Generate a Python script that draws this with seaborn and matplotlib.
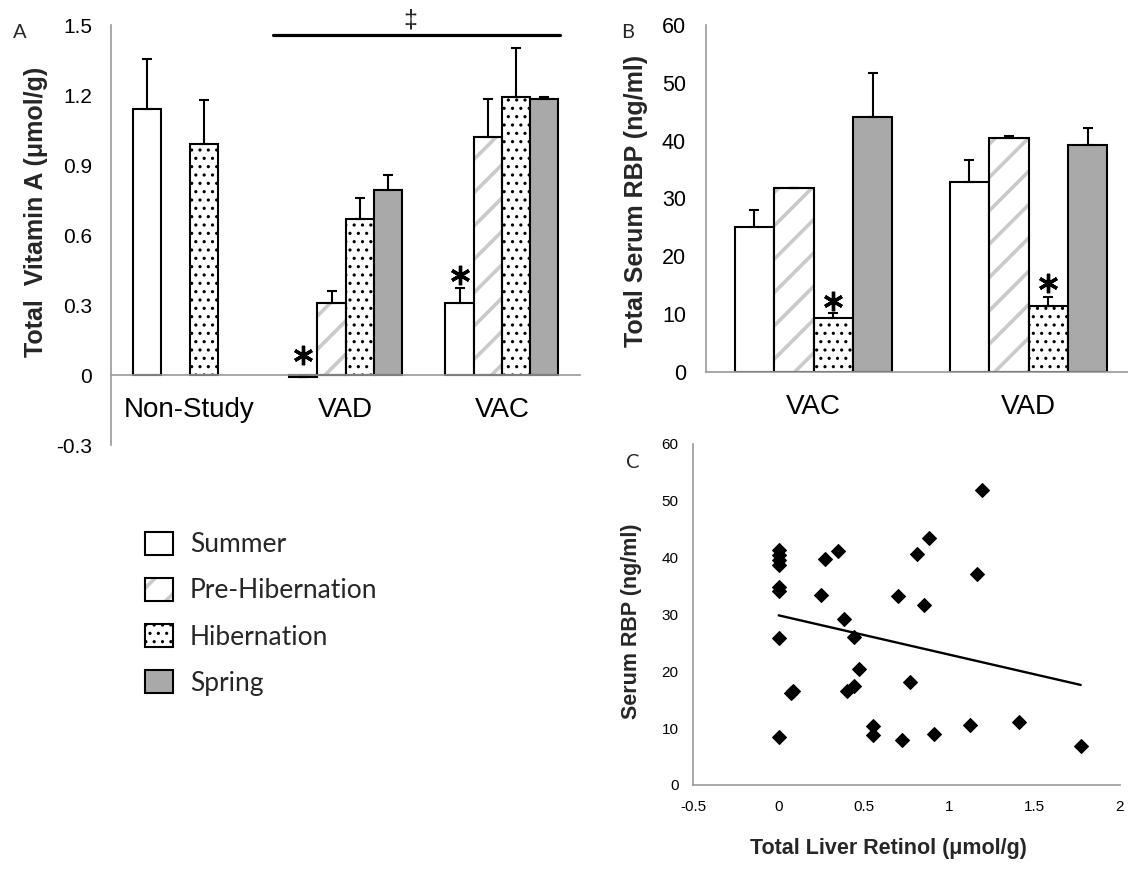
import numpy as np
import pandas as pd
import matplotlib
matplotlib.use("Agg")
import matplotlib.pyplot as plt
import seaborn as sns
from matplotlib.patches import Patch, Rectangle
from matplotlib.transforms import ScaledTranslation

seasons = ["Summer", "Pre-Hibernation", "Hibernation", "Spring"]
fills = {"Summer": "white", "Pre-Hibernation": "white",
         "Hibernation": "white", "Spring": "#A9A9A9"}
STRIPE = "#CACACA"
SPINE = "#999999"

# Panel A: total liver vitamin A (umol/g), mean and SE per season
groups_a = ["Non-Study", "VAD", "VAC"]
nonstudy_a = [1.14, np.nan, 0.99, np.nan]
vad_a = [-0.007, 0.31, 0.67, 0.795]
vac_a = [0.31, 1.02, 1.19, 1.184]
nonstudy_a_se = [0.215, np.nan, 0.19, np.nan]
vad_a_se = [0.0, 0.05, 0.09, 0.062]
vac_a_se = [0.062, 0.163, 0.21, 0.009]
# (group, season, offset in points above the error bar)
stars_a = [("VAD", "Summer", 14.5), ("VAC", "Summer", 9.5)]
yticks_a = [-0.3, 0, 0.3, 0.6, 0.9, 1.2, 1.5]
yticklabels_a = ["-0.3", "0", "0.3", "0.6", "0.9", "1.2", "1.5"]
sig_span_a = (0.535, 2.375)
sig_y_a = 1.459
sig_label_a = (1.413, 1.521)

# Panel B: total serum RBP (ng/ml)
groups_b = ["VAC", "VAD"]
vac_b = [25.0, 31.7, 9.3, 44.1]
vad_b = [32.9, 40.4, 11.4, 39.2]
vac_b_se = [2.9, 0.0, 0.8, 7.6]
vad_b_se = [3.7, 0.4, 1.6, 2.9]
stars_b = [("VAC", "Hibernation", 8.5), ("VAD", "Hibernation", 9.6)]
yticks_b = [0, 10, 20, 30, 40, 50, 60]

# Panel C: individual animals
liver_retinol = [0, 0, 0, 0, 0, 0, 0, 0, 0.07, 0.085, 0.25, 0.27, 0.35, 0.38,
                 0.40, 0.44, 0.44, 0.47, 0.55, 0.55, 0.70, 0.72, 0.77, 0.81,
                 0.85, 0.88, 0.91, 1.12, 1.16, 1.19, 1.41, 1.77]
serum_rbp = [41.4, 40.5, 39.6, 38.7, 34.8, 34.2, 25.8, 8.5, 16.1, 16.5, 33.4,
             39.7, 41.1, 29.2, 16.5, 26.1, 17.4, 20.4, 10.3, 8.8, 33.3, 8.0,
             18.2, 40.6, 31.6, 43.4, 9.0, 10.6, 37.1, 51.9, 11.0, 6.9]
xticks_c = [-0.5, 0, 0.5, 1, 1.5, 2]
xticklabels_c = ["-0.5", "0", "0.5", "1", "1.5", "2"]
yticks_c = [0, 10, 20, 30, 40, 50, 60]


def long_frame(groups, values, errors):
    rows = []
    for g, vals, errs in zip(groups, values, errors):
        for s, v, e in zip(seasons, vals, errs):
            if not np.isnan(v):
                rows.append({"group": g, "season": s, "value": v, "se": e})
    return pd.DataFrame(rows)


def draw_bars(ax, df, groups, width):
    sns.barplot(data=df, x="group", y="value", hue="season", order=groups,
                hue_order=seasons, palette=fills, saturation=1, width=width,
                errorbar=None, edgecolor="black", linewidth=1.5, legend=False,
                ax=ax, zorder=2)
    bars = {}
    xs, tops, errs = [], [], []
    for season, cont in zip(seasons, ax.containers):
        sub = df[df["season"] == season]
        for p, row in zip(cont.patches, sub.itertuples()):
            bars[(row.group, season)] = p
            if season == "Pre-Hibernation":
                p.set_hatch("/")
                p.set_edgecolor(STRIPE)
                if hasattr(p, "set_hatch_linewidth"):
                    p.set_hatch_linewidth(2.6)
                ax.add_patch(Rectangle(p.get_xy(), p.get_width(), p.get_height(),
                                       fill=False, edgecolor="black", lw=1.5,
                                       zorder=2.1))
            elif season == "Hibernation":
                p.set_hatch("..")
                if hasattr(p, "set_hatch_linewidth"):
                    p.set_hatch_linewidth(1.1)
            xs.append(p.get_x() + p.get_width() / 2)
            tops.append(row.value)
            errs.append(row.se)
    ax.errorbar(xs, tops, yerr=[np.zeros(len(errs)), errs], fmt="none",
                ecolor="black", elinewidth=1.5, capsize=3.6, capthick=1.5,
                zorder=3)
    return bars


def add_stars(ax, df, bars, stars):
    fig = ax.figure
    for g, s, offset in stars:
        tr = ax.transData + ScaledTranslation(0, offset / 72, fig.dpi_scale_trans)
        p = bars[(g, s)]
        row = df[(df["group"] == g) & (df["season"] == s)].iloc[0]
        ax.plot(p.get_x() + p.get_width() / 2, max(row.value, 0) + row.se,
                marker=(6, 2, 0), ms=14, mew=2.4, color="black",
                transform=tr, clip_on=False, zorder=4)


def style_axis(ax):
    for side in ["top", "right"]:
        ax.spines[side].set_visible(False)
    for side in ["left", "bottom"]:
        ax.spines[side].set_color(SPINE)
        ax.spines[side].set_linewidth(1.2)
    ax.tick_params(colors=SPINE, labelcolor="black", direction="out", width=1.2)


def place_label(axis, x, y):
    axis.set_label_coords(x, y)
    axis.label.set_verticalalignment("center")


sns.set_style("white")
plt.rcParams["font.family"] = ["Liberation Sans", "DejaVu Sans"]
plt.rcParams["hatch.linewidth"] = 2.6

fig = plt.figure(figsize=(11.28, 8.69), dpi=100)

# ---- Panel A ----
df_a = long_frame(groups_a, [nonstudy_a, vad_a, vac_a],
                  [nonstudy_a_se, vad_a_se, vac_a_se])
ax_a = fig.add_axes([0.0988, 0.4879, 0.4154, 0.4833])
bars_a = draw_bars(ax_a, df_a, groups_a, width=0.724)
add_stars(ax_a, df_a, bars_a, stars_a)
ax_a.set_ylim(-0.3, 1.5)
ax_a.set_xlim(-0.5, 2.5)
style_axis(ax_a)
ax_a.spines["bottom"].set_position(("data", 0))
ax_a.set_yticks(yticks_a, yticklabels_a)
ax_a.set_xticks(range(len(groups_a)), groups_a)
ax_a.set_xticks(np.arange(len(groups_a) + 1) - 0.5, minor=True)
ax_a.tick_params(axis="x", which="major", length=0, labelsize=20, pad=16)
ax_a.tick_params(axis="x", which="minor", length=5)
ax_a.tick_params(axis="y", length=4.3, labelsize=15, pad=9.5)
ax_a.set_xlabel("")
ax_a.set_ylabel("Total  Vitamin A (\u03bcmol/g)", fontsize=18, fontweight="bold")
place_label(ax_a.yaxis, -0.162, 0.556)
ax_a.plot(sig_span_a, [sig_y_a, sig_y_a], color="black", lw=2.3,
          clip_on=False, zorder=4)
ax_a.text(*sig_label_a, "\u2021", ha="center", va="center", fontsize=18)

# ---- Panel B ----
df_b = long_frame(groups_b, [vac_b, vad_b], [vac_b_se, vad_b_se])
ax_b = fig.add_axes([0.6259, 0.5723, 0.3812, 0.3990])
bars_b = draw_bars(ax_b, df_b, groups_b, width=0.733)
add_stars(ax_b, df_b, bars_b, stars_b)
ax_b.set_ylim(0, 60)
ax_b.set_xlim(-0.5, 1.5)
style_axis(ax_b)
ax_b.set_yticks(yticks_b, [str(t) for t in yticks_b])
ax_b.set_xticks(range(len(groups_b)), groups_b)
ax_b.set_xticks(np.arange(len(groups_b) + 1) - 0.5, minor=True)
ax_b.tick_params(axis="x", which="major", length=0, labelsize=20, pad=16)
ax_b.tick_params(axis="x", which="minor", length=6)
ax_b.tick_params(axis="y", length=4.5, labelsize=15.5, pad=10)
ax_b.set_xlabel("")
ax_b.set_ylabel("Total Serum RBP (ng/ml)", fontsize=18, fontweight="bold")
place_label(ax_b.yaxis, -0.163, 0.492)

# ---- Panel C ----
ax_c = fig.add_axes([0.6147, 0.0967, 0.3782, 0.3924])
sns.scatterplot(x=liver_retinol, y=serum_rbp, marker="D", color="black",
                s=50, edgecolor="black", linewidth=0.8, ax=ax_c, zorder=3)
sns.regplot(x=liver_retinol, y=serum_rbp, scatter=False, ci=None,
            truncate=True, color="black", line_kws={"lw": 1.7}, ax=ax_c)
ax_c.set_xlim(-0.5, 2)
ax_c.set_ylim(0, 60)
style_axis(ax_c)
ax_c.set_xticks(xticks_c, xticklabels_c)
ax_c.set_yticks(yticks_c, [str(t) for t in yticks_c])
ax_c.tick_params(length=4.3, labelsize=11, pad=6.3)
ax_c.set_xlabel("Total Liver Retinol (\u03bcmol/g)", fontsize=15.5,
                fontweight="bold")
ax_c.set_ylabel("Serum RBP (ng/ml)", fontsize=15.5, fontweight="bold")
place_label(ax_c.yaxis, -0.146, 0.479)
place_label(ax_c.xaxis, 0.458, -0.185)

# panel letters
for letter, (px, py) in zip("ABC", [(20, 32), (628, 32), (633, 463)]):
    fig.text(px / 1128, 1 - py / 869, letter, ha="center", va="center",
             fontsize=14.5, family=["Lato", "DejaVu Sans"])

# shared legend
handles = [
    Patch(facecolor=fills["Summer"], edgecolor="black", lw=1.5),
    (Patch(facecolor="white", edgecolor=STRIPE, hatch="/", lw=0),
     Patch(facecolor="none", edgecolor="black", lw=1.5)),
    Patch(facecolor="white", edgecolor="black", hatch="..", lw=1.5),
    Patch(facecolor=fills["Spring"], edgecolor="black", lw=1.5),
]
leg = fig.legend(handles, seasons, loc="upper left",
                 bbox_to_anchor=(145 / 1128, 1 - 532 / 869), frameon=False,
                 prop={"family": ["Lato", "DejaVu Sans"], "size": 19},
                 handlelength=1.05, handleheight=0.95, handletextpad=0.65,
                 labelspacing=0.78, borderpad=0, borderaxespad=0)
for h in leg.legend_handles:
    if h is not None and h.get_hatch() == ".." and hasattr(h, "set_hatch_linewidth"):
        h.set_hatch_linewidth(1.1)

fig.savefig("out.png", dpi=100)
